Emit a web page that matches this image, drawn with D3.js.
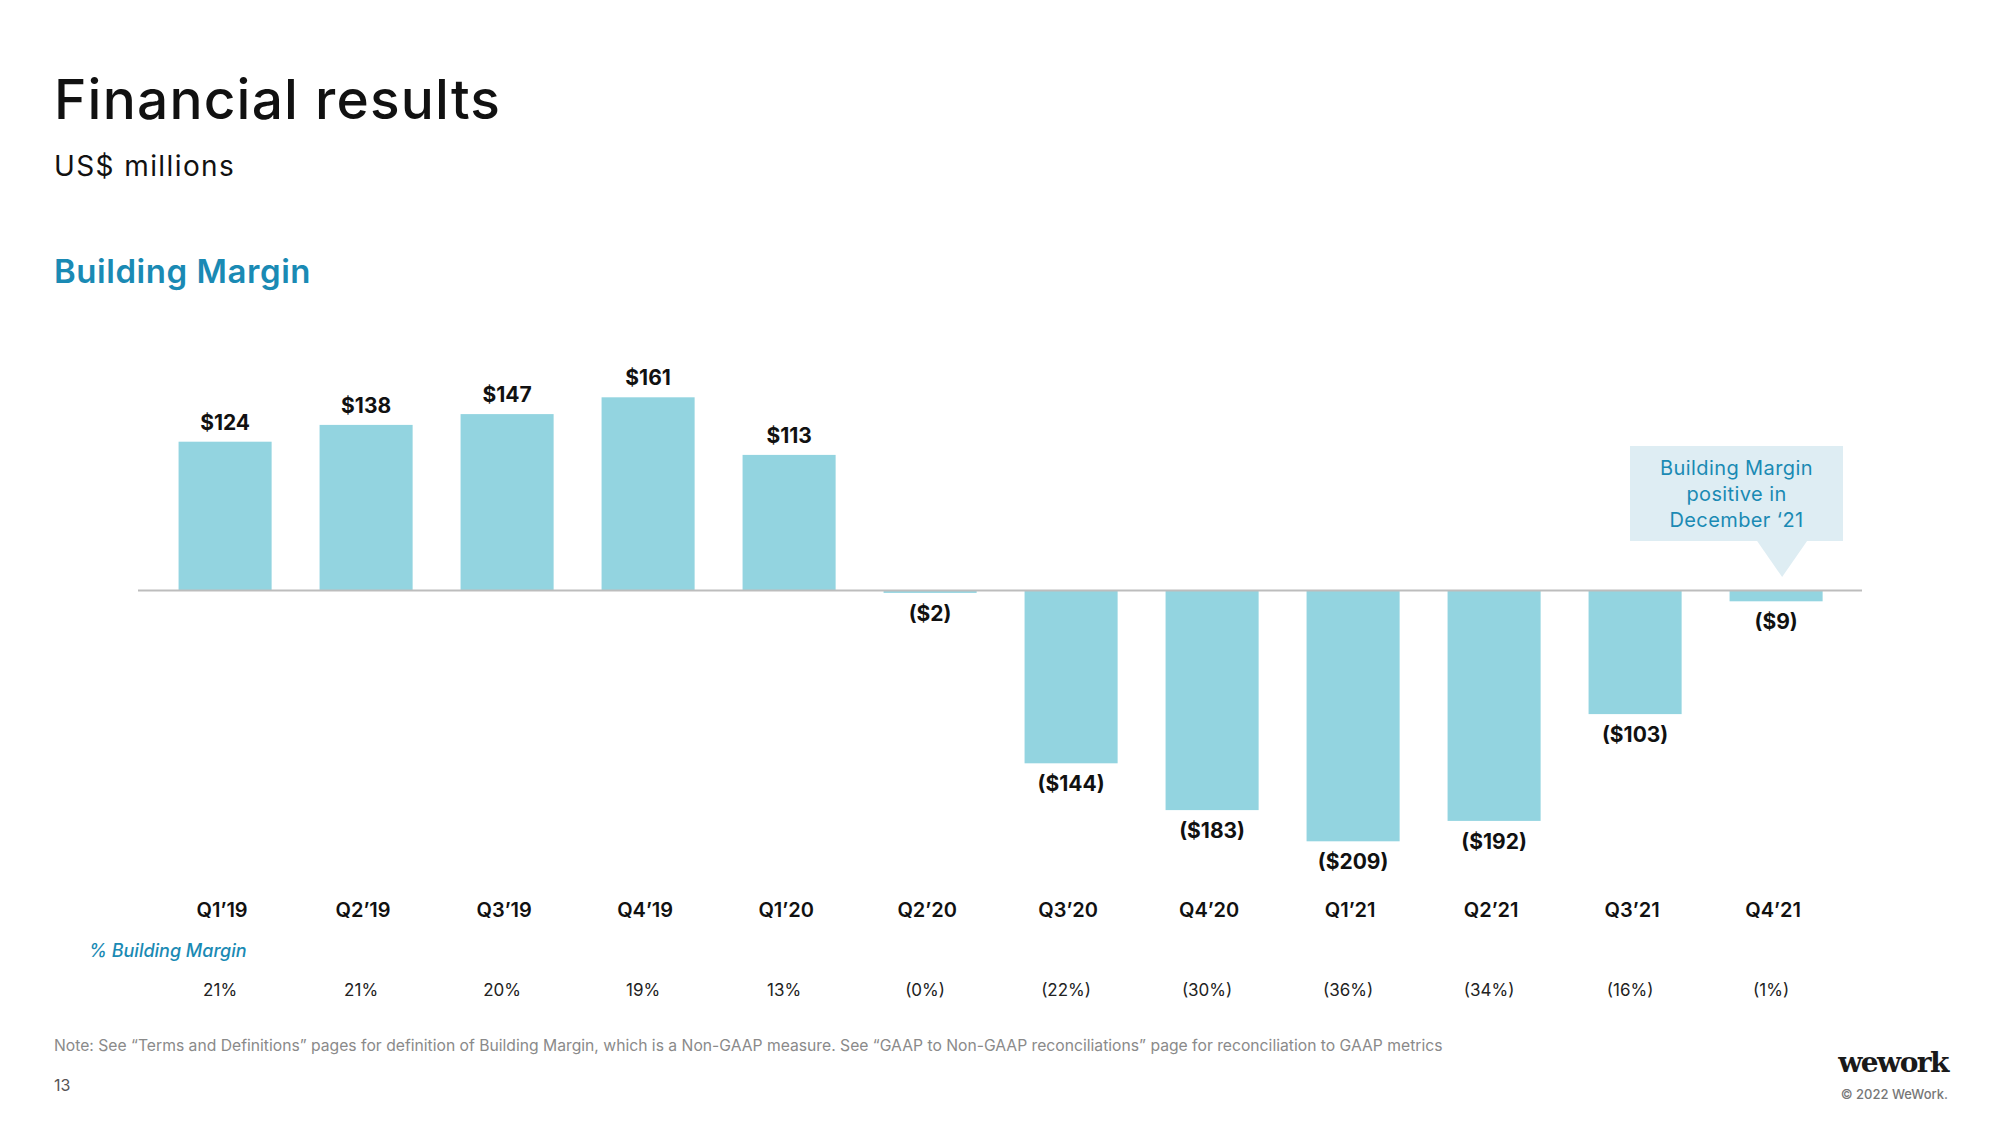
<!DOCTYPE html>
<html>
<head>
<meta charset="utf-8">
<script src="https://cdn.jsdelivr.net/npm/d3@7"></script>
<style>
  html, body { margin: 0; padding: 0; background: #fff; }
  svg { display: block; }
</style>
</head>
<body>
<svg id="chart" width="2000" height="1125"></svg>
<script>
// ---- Data ----
const categories = ["Q1’19","Q2’19","Q3’19","Q4’19","Q1’20","Q2’20","Q3’20","Q4’20","Q1’21","Q2’21","Q3’21","Q4’21"];
const buildingMargin = [124, 138, 147, 161, 113, -2, -144, -183, -209, -192, -103, -9];
const pctBuildingMargin = ["21%","21%","20%","19%","13%","(0%)","(22%)","(30%)","(36%)","(34%)","(16%)","(1%)"];
const calloutLines = ["Building Margin", "positive in", "December ‘21"];
const calloutCategory = "Q4’21";

// ---- Layout ----
const svg = d3.select("#chart");
const FONT = "Inter, 'Noto Sans', sans-serif";
const TEAL = "#1a8ab4";
const BAR = "#93d4e0";

const x = d3.scaleBand().domain(categories).range([154.6, 1846.6]).paddingInner(0.34).paddingOuter(0.17);
const y = d3.scaleLinear().domain([-250, 200]).range([890.5, 350.5]);

// Titles
svg.append("text").attr("x", 54).attr("y", 119).attr("font-family", FONT)
  .attr("font-size", 55).attr("font-weight", 500).attr("letter-spacing", 1.2).attr("fill", "#111").text("Financial results");
svg.append("text").attr("x", 54).attr("y", 176).attr("font-family", FONT)
  .attr("font-size", 28).attr("font-weight", 400).attr("letter-spacing", 1.4).attr("fill", "#111").text("US$ millions");
svg.append("text").attr("x", 54).attr("y", 283).attr("font-family", FONT)
  .attr("font-size", 33).attr("font-weight", 600).attr("letter-spacing", 0.55).attr("fill", TEAL).text("Building Margin");

// Bars
const data = categories.map((c, i) => ({ c, v: buildingMargin[i], p: pctBuildingMargin[i] }));
svg.append("g").selectAll("rect").data(data).join("rect")
  .attr("x", d => x(d.c))
  .attr("width", x.bandwidth())
  .attr("y", d => Math.min(y(d.v), y(0)))
  .attr("height", d => Math.abs(y(d.v) - y(0)))
  .attr("fill", BAR);

// Baseline
svg.append("line").attr("x1", 138).attr("x2", 1862).attr("y1", y(0)).attr("y2", y(0))
  .attr("stroke", "#bdbdbd").attr("stroke-width", 2);

// Value labels
const fmt = v => v >= 0 ? `$${v}` : `($${Math.abs(v)})`;
svg.append("g").selectAll("text").data(data).join("text")
  .attr("x", d => x(d.c) + x.bandwidth() / 2)
  .attr("y", d => d.v >= 0 ? y(d.v) - 12 : y(d.v) + 28)
  .attr("text-anchor", "middle")
  .attr("font-family", FONT).attr("font-size", 21).attr("font-weight", 700).attr("fill", "#111")
  .text(d => fmt(d.v));

// Category axis (no line / ticks)
const xAxis = d3.axisBottom(x).tickSize(0).tickPadding(0);
const gx = svg.append("g").attr("transform", "translate(-3,903)").call(xAxis);
gx.select(".domain").remove();
gx.selectAll("text").attr("font-family", FONT).attr("font-size", 20).attr("font-weight", 600).attr("fill", "#111");

// % Building Margin row
svg.append("text").attr("x", 89).attr("y", 957).attr("font-family", FONT)
  .attr("font-size", 18).attr("font-style", "italic").attr("font-weight", 500).attr("fill", TEAL)
  .text("% Building Margin");
svg.append("g").selectAll("text").data(data).join("text")
  .attr("x", d => x(d.c) + x.bandwidth() / 2 - 5)
  .attr("y", 996)
  .attr("text-anchor", "middle")
  .attr("font-family", FONT).attr("font-size", 17).attr("font-weight", 400).attr("fill", "#222")
  .text(d => d.p);

// Callout
const cx = x(calloutCategory) + x.bandwidth() / 2 + 6;
const box = { x0: 1630, x1: 1843, y0: 446, y1: 541 };
svg.append("rect").attr("x", box.x0).attr("y", box.y0).attr("width", box.x1 - box.x0).attr("height", box.y1 - box.y0)
  .attr("fill", "#deedf3");
svg.append("path").attr("d", `M${cx - 25},${box.y1} L${cx + 25},${box.y1} L${cx},${box.y1 + 36} Z`).attr("fill", "#deedf3");
svg.append("g").selectAll("text").data(calloutLines).join("text")
  .attr("x", (box.x0 + box.x1) / 2)
  .attr("y", (d, i) => 475 + i * 26)
  .attr("text-anchor", "middle")
  .attr("font-family", FONT).attr("font-size", 20).attr("font-weight", 400).attr("letter-spacing", 0.4).attr("fill", TEAL)
  .text(d => d);

// Footer
svg.append("text").attr("x", 54).attr("y", 1051).attr("font-family", FONT)
  .attr("font-size", 15.7).attr("fill", "#8a8a8a")
  .text("Note: See “Terms and Definitions” pages for definition of Building Margin, which is a Non-GAAP measure. See “GAAP to Non-GAAP reconciliations” page for reconciliation to GAAP metrics");
svg.append("text").attr("x", 54).attr("y", 1091).attr("font-family", FONT)
  .attr("font-size", 16).attr("fill", "#555").text("13");
svg.append("text").attr("x", 1948).attr("y", 1072).attr("text-anchor", "end")
  .attr("font-family", "'DejaVu Serif', 'Liberation Serif', serif").attr("font-size", 28).attr("font-weight", 700)
  .attr("letter-spacing", -1.5).attr("fill", "#1a1a1a").text("wework");
svg.append("text").attr("x", 1948).attr("y", 1099).attr("text-anchor", "end")
  .attr("font-family", FONT).attr("font-size", 13).attr("font-weight", 500).attr("fill", "#777").text("© 2022 WeWork.");
</script>
</body>
</html>
